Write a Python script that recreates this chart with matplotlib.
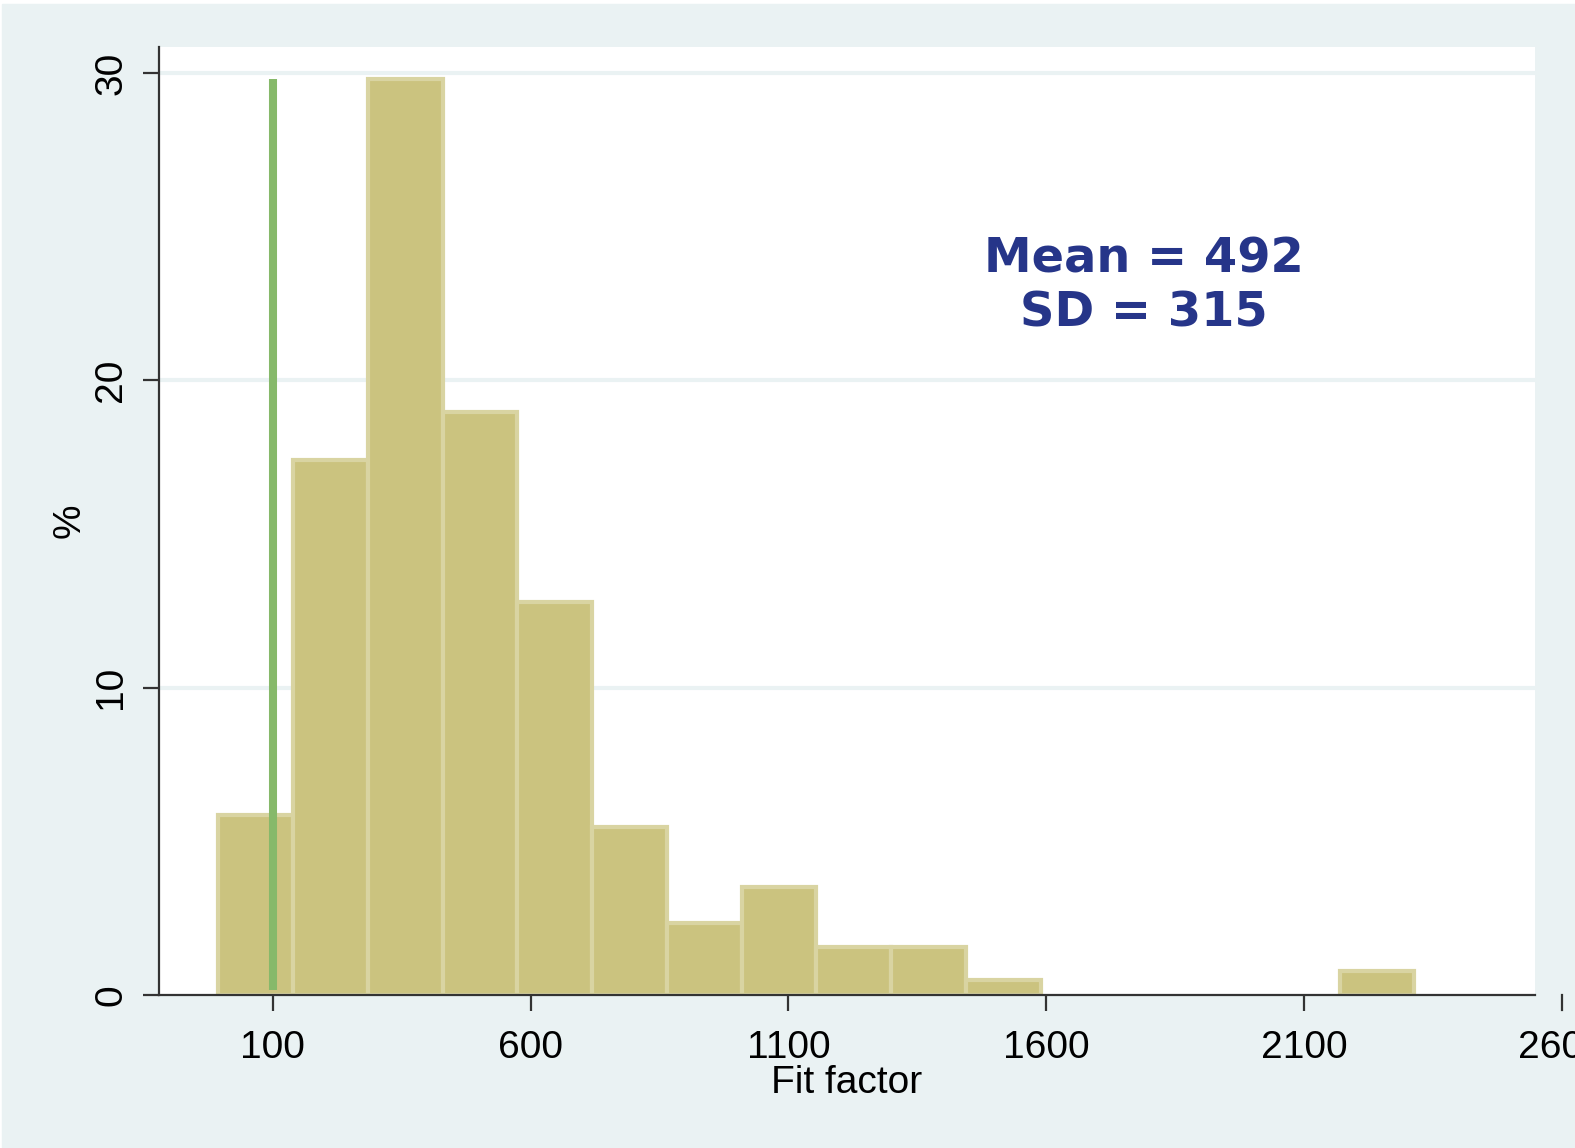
import matplotlib
matplotlib.use("Agg")
import matplotlib.pyplot as plt
from matplotlib.patches import Rectangle
from matplotlib import transforms

# histogram of fit factors (percent of subjects per bin)
bin_start = -6
bin_width = 145
percents = [5.85, 17.4, 29.8, 18.98, 12.8, 5.47, 2.35, 3.52, 1.56, 1.56,
            0.48, 0, 0, 0, 0, 0.78]
x_ticks = [100, 600, 1100, 1600, 2100]
y_ticks = [0, 10, 20, 30]
ref_line = 100
stats_text = "Mean = 492\nSD = 315"

bg = "#EAF2F3"
bar_fill = "#CBC37F"
bar_edge = "#D9D4A2"

fig = plt.figure(figsize=(15.75, 11.48), dpi=100)
fig.patch.set_facecolor("white")
fig.patches.append(Rectangle((2 / 1575, 0), 1, 1 - 4 / 1148,
                             transform=fig.transFigure, color=bg, zorder=-10))

ax = fig.add_axes([159 / 1575, 153 / 1148, (1535 - 159) / 1575, (994 - 46) / 1148])
ax.set_facecolor("white")

# empty bins get no bar at all (Stata draws nothing there)
lefts = [bin_start + i * bin_width for i in range(len(percents))]
shown = [(l, p) for l, p in zip(lefts, percents) if p > 0]
ax.bar([s[0] for s in shown], [s[1] for s in shown], width=bin_width,
       align="edge", color=bar_fill, edgecolor=bar_edge, linewidth=3, zorder=2)

ax.plot([ref_line, ref_line], [0.15, 29.8], color="#86B96A", linewidth=5.8,
        solid_capstyle="butt", zorder=3)

for y in y_ticks[1:]:
    ax.axhline(y, color=bg, linewidth=3, zorder=1)

ax.set_xlim(-121, 2548)
ax.set_ylim(0, 30.85)

for side in ["top", "right"]:
    ax.spines[side].set_visible(False)
for side in ["left", "bottom"]:
    ax.spines[side].set_color("#333333")
    ax.spines[side].set_linewidth(1.6)
    ax.spines[side].set_zorder(4)

tick_font = {"family": "Liberation Sans", "size": 28}
ax.set_xticks(x_ticks)
ax.set_xticklabels([str(t) for t in x_ticks], fontdict=tick_font)
ax.set_yticks(y_ticks)
ax.set_yticklabels([str(t) for t in y_ticks], fontdict=tick_font, rotation=90)
for lab in ax.get_yticklabels():
    lab.set_va("center")
ax.tick_params(axis="both", length=11.5, width=1.6, color="#333333")
ax.tick_params(axis="x", pad=14)
ax.tick_params(axis="y", pad=10)

# Stata draws the 2600 tick beyond the plot region
trans = transforms.blended_transform_factory(ax.transData, ax.transAxes)
ax.plot([2600, 2600], [0, -15 / 948], transform=trans, color="#333333",
        linewidth=1.6, clip_on=False)
ax.annotate("2600", xy=(2600, 0), xycoords=trans, xytext=(0, -25.5),
            textcoords="offset points", ha="center", va="top",
            annotation_clip=False, **tick_font)

ax.set_xlabel("Fit factor", fontdict=tick_font, labelpad=-1)
ax.set_ylabel("%", fontdict=tick_font, labelpad=4)

ax.text(1144, 1148 - 286, stats_text, transform=None, ha="center",
        va="center", fontsize=34.5, fontweight="bold", family="DejaVu Sans",
        color="#263589", linespacing=1.2)

fig.savefig("out.png", dpi=100, facecolor=fig.get_facecolor())
